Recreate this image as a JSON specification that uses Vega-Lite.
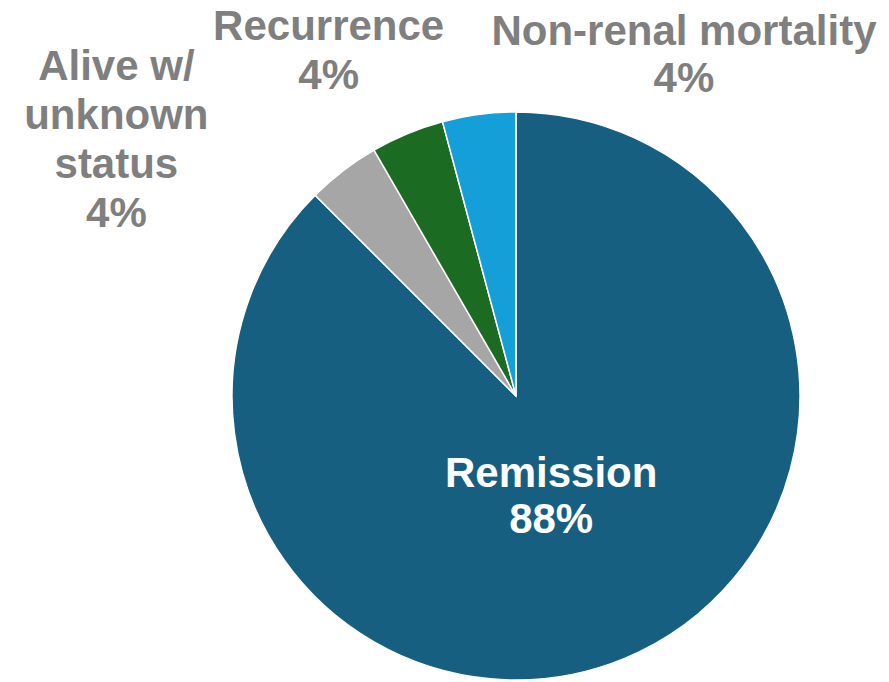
{
  "$schema": "https://vega.github.io/schema/vega-lite/v6.json",
  "autosize": {"type": "none"},
  "width": 568,
  "height": 568,
  "padding": {"left": 232, "top": 112, "right": 89, "bottom": 2},
  "background": "white",
  "config": {"view": {"stroke": null}},
  "data": {
    "values": [
      {"category": "Remission", "value": 21, "order": 1, "label": "Remission\n88%"},
      {"category": "Alive w/ unknown status", "value": 1, "order": 2, "label": "Alive w/\nunknown\nstatus\n4%"},
      {"category": "Recurrence", "value": 1, "order": 3, "label": "Recurrence\n4%"},
      {"category": "Non-renal mortality", "value": 1, "order": 4, "label": "Non-renal mortality\n4%"}
    ]
  },
  "encoding": {
    "theta": {"field": "value", "type": "quantitative", "stack": true},
    "order": {"field": "order", "type": "quantitative"}
  },
  "layer": [
    {
      "mark": {"type": "arc", "stroke": "white", "strokeWidth": 1.5},
      "encoding": {
        "color": {
          "field": "category",
          "type": "nominal",
          "scale": {
            "domain": ["Remission", "Alive w/ unknown status", "Recurrence", "Non-renal mortality"],
            "range": ["#175F81", "#A6A6A6", "#1B6B23", "#149FD8"]
          },
          "legend": null
        }
      }
    },
    {
      "mark": {"type": "text", "radius": 105, "dx": -5, "dy": -19, "font": "Liberation Sans", "fontWeight": "bold", "fontSize": 42, "lineBreak": "\n", "lineHeight": 46, "align": "center", "baseline": "middle", "fill": "white"},
      "encoding": {
        "text": {"condition": {"test": "datum.category === 'Remission'", "field": "label"}, "value": ""}
      }
    },
    {
      "mark": {"type": "text", "radius": 345, "dx": 213, "dy": -22, "font": "Liberation Sans", "fontWeight": "bold", "fontSize": 42, "lineBreak": "\n", "lineHeight": 47, "align": "center", "baseline": "middle", "fill": "#7F7F7F"},
      "encoding": {
        "text": {"condition": {"test": "datum.category === 'Non-renal mortality'", "field": "label"}, "value": ""}
      }
    },
    {
      "mark": {"type": "text", "radius": 372, "dx": -45, "dy": -25, "font": "Liberation Sans", "fontWeight": "bold", "fontSize": 42, "lineBreak": "\n", "lineHeight": 49, "align": "center", "baseline": "middle", "fill": "#7F7F7F"},
      "encoding": {
        "text": {"condition": {"test": "datum.category === 'Recurrence'", "field": "label"}, "value": ""}
      }
    },
    {
      "mark": {"type": "text", "radius": 323, "dx": -203, "dy": -73, "font": "Liberation Sans", "fontWeight": "bold", "fontSize": 42, "lineBreak": "\n", "lineHeight": 49, "align": "center", "baseline": "middle", "fill": "#7F7F7F"},
      "encoding": {
        "text": {"condition": {"test": "datum.category === 'Alive w/ unknown status'", "field": "label"}, "value": ""}
      }
    }
  ]
}
